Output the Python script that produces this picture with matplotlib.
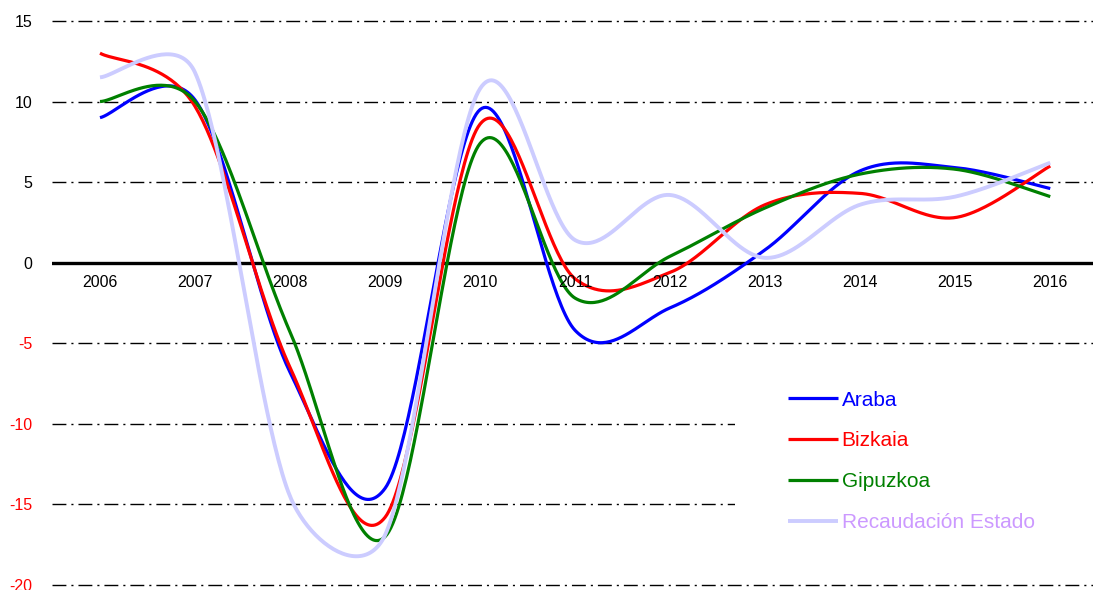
import numpy as np
import matplotlib
matplotlib.use('Agg')
import matplotlib.pyplot as plt
from matplotlib.patches import Rectangle

years = [2006, 2007, 2008, 2009, 2010, 2011, 2012, 2013, 2014, 2015, 2016]
araba = [9.0, 10.1, -6.8, -14.0, 9.5, -4.2, -2.8, 0.8, 5.7, 5.9, 4.6]
bizkaia = [13.0, 9.7, -6.5, -15.8, 8.6, -1.0, -0.6, 3.6, 4.3, 2.8, 6.0]
gipuzkoa = [10.0, 10.0, -4.3, -17.0, 7.4, -2.2, 0.4, 3.4, 5.5, 5.8, 4.1]
estado = [11.5, 11.8, -14.5, -16.9, 10.8, 1.4, 4.2, 0.3, 3.6, 4.1, 6.2]

series_names = ['Araba', 'Bizkaia', 'Gipuzkoa', 'Recaudación Estado']
line_colors = ['#0000ff', '#ff0000', '#008000', '#ccccff']
text_colors = ['#0000ff', '#ff0000', '#008000', '#cc99ff']
yticks = [15, 10, 5, 0, -5, -10, -15, -20]

# pixel scale used for the Excel-like smoothing (px per year, px per unit)
SX, SY = 95.0, 16.1


def smooth(x, y, n=50):
    """Excel-style smoothed line: Bezier arms of d02/6, capped at half the segment."""
    p = np.column_stack([(np.asarray(x, float) - x[0]) * SX, np.asarray(y, float) * SY])
    pts = np.vstack([p[0], p, p[-1]])
    t = np.linspace(0, 1, n)[:, None]
    out = []
    for i in range(len(p) - 1):
        q0, q1, q2, q3 = pts[i], pts[i + 1], pts[i + 2], pts[i + 3]
        d12 = np.hypot(*(q2 - q1))
        d02 = np.hypot(*(q2 - q0))
        d13 = np.hypot(*(q3 - q1))
        f1 = min(1 / 6, d12 / 2 / d02) if d02 > 0 else 0
        f2 = min(1 / 6, d12 / 2 / d13) if d13 > 0 else 0
        b1 = q1 + (q2 - q0) * f1
        b2 = q2 - (q3 - q1) * f2
        seg = (1 - t) ** 3 * q1 + 3 * (1 - t) ** 2 * t * b1 + 3 * (1 - t) * t ** 2 * b2 + t ** 3 * q2
        out.append(seg)
    out = np.vstack(out)
    return out[:, 0] / SX + x[0], out[:, 1] / SY


fig = plt.figure(figsize=(10.93, 5.90), dpi=100)
ax = fig.add_axes([52 / 1093, 0, 1 - 52 / 1093, 1])
ax.set_xlim(2005.495, 2016.45)
ax.set_ylim(-20.31, 16.30)

for spine in ['left', 'right', 'top', 'bottom']:
    ax.spines[spine].set_visible(False)
ax.set_xticks([])
ax.set_yticks(yticks)
ax.tick_params(axis='y', length=0, pad=14.2, labelsize=11.5)
ax.set_yticklabels([str(v) for v in yticks], fontname='Liberation Sans')
for lab, v in zip(ax.get_yticklabels(), yticks):
    lab.set_color('red' if v < 0 else 'black')

# dash-dot gridlines
for v in yticks:
    if v == 0:
        continue
    ax.axhline(v, color='black', linewidth=1.0, dashes=(10, 3.6, 1.5, 3.6), zorder=1)
ax.axhline(0, color='black', linewidth=2.4, zorder=2)

# white box behind legend
ax.add_patch(Rectangle((735 / 1093, 1 - 560 / 590), 0.5, 190 / 590, transform=fig.transFigure,
                       facecolor='white', edgecolor='none', zorder=3))

for vals, name, col in zip([araba, bizkaia, gipuzkoa, estado], series_names, line_colors):
    sx, sy = smooth(years, vals)
    lw = 2.8 if name == 'Recaudación Estado' else 2.3
    ax.plot(sx, sy, color=col, linewidth=lw, label=name, zorder=4, solid_capstyle='butt')

for yr in years:
    ax.text(yr, -1.24, str(yr), ha='center', va='center', fontsize=11.5,
            fontname='Liberation Sans', zorder=5)

leg = ax.legend(loc='upper left', bbox_to_anchor=(773 / 1093, 1 - 376 / 590),
                bbox_transform=fig.transFigure, frameon=False, handlelength=2.4,
                handletextpad=0.2, labelspacing=1.05, borderpad=0.2,
                prop={'family': 'Liberation Sans', 'size': 15})
leg.set_zorder(6)
for txt, col in zip(leg.get_texts(), text_colors):
    txt.set_color(col)

fig.savefig('out.png', dpi=100)
